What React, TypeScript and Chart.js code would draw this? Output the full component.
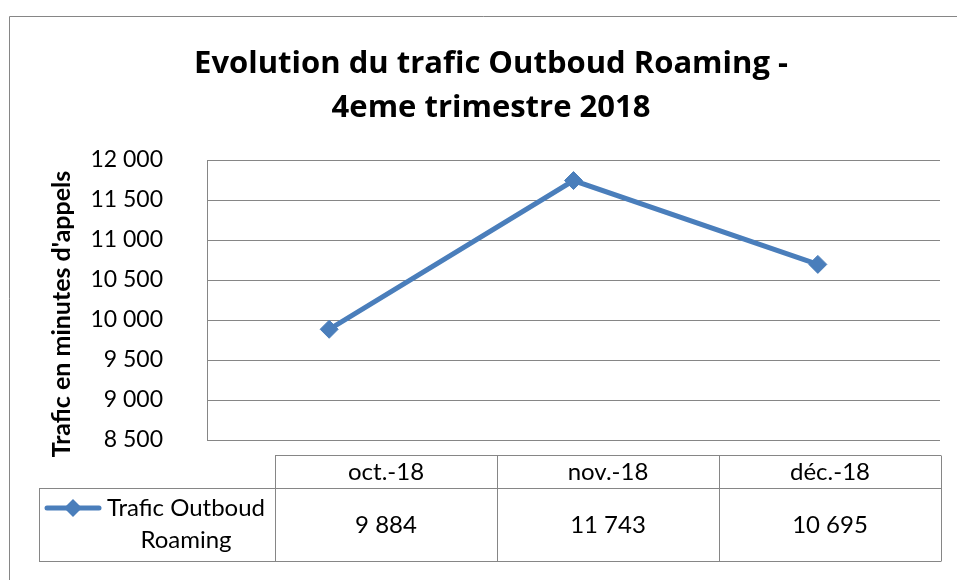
import React, { useEffect, useRef } from "react";
import { Chart, registerables } from "chart.js";

Chart.register(...registerables);

const categories = ["oct.-18", "nov.-18", "déc.-18"];
const seriesName = ["Trafic Outboud", "Roaming"];
const trafficValues = [9884, 11743, 10695];
const titleLines = ["Evolution du trafic Outboud Roaming -", "4eme trimestre 2018"];
const yAxisTitle = "Trafic en minutes d'appels";
const yMin = 8500;
const yMax = 12000;
const yStep = 500;

const FONT = "Lato, 'Open Sans', sans-serif";
const TITLE_FONT = "'Open Sans', Lato, sans-serif";
const BLUE = "#4a7ebb";
const GRID = "#868686";

const fmt = (v: number) => String(v).replace(/\B(?=(\d{3})+(?!\d))/g, " ");

const decorPlugin = {
  id: "decor",
  afterDraw(chart: any) {
    const ctx: CanvasRenderingContext2D = chart.ctx;
    ctx.save();
    // outer chart border
    ctx.strokeStyle = GRID;
    ctx.lineWidth = 1;
    ctx.beginPath();
    ctx.moveTo(9.5, 580);
    ctx.lineTo(9.5, 16.5);
    ctx.lineTo(957, 16.5);
    ctx.stroke();

    // y-axis title
    ctx.fillStyle = "#000";
    ctx.font = `bold 25px ${FONT}`;
    ctx.textAlign = "center";
    ctx.textBaseline = "middle";
    ctx.translate(62, 314);
    ctx.rotate(-Math.PI / 2);
    ctx.fillText(yAxisTitle, 0, 0);
    ctx.restore();

    // data table
    ctx.save();
    const colX = [275, 497, 719, 941];
    const legendLeft = 39;
    const headTop = 455.5;
    const rowTop = 488.5;
    const rowBottom = 561.5;
    ctx.strokeStyle = GRID;
    ctx.lineWidth = 1;
    ctx.beginPath();
    ctx.moveTo(colX[0], headTop);
    ctx.lineTo(colX[3], headTop);
    ctx.moveTo(legendLeft, rowTop);
    ctx.lineTo(colX[3], rowTop);
    ctx.moveTo(legendLeft, rowBottom);
    ctx.lineTo(colX[3], rowBottom);
    ctx.moveTo(legendLeft + 0.5, rowTop);
    ctx.lineTo(legendLeft + 0.5, rowBottom);
    colX.forEach((x) => {
      ctx.moveTo(x + 0.5, headTop);
      ctx.lineTo(x + 0.5, rowBottom);
    });
    ctx.stroke();

    ctx.fillStyle = "#000";
    ctx.font = `24px ${FONT}`;
    ctx.textAlign = "center";
    ctx.textBaseline = "middle";
    const labels = chart.data.labels as string[];
    const vals = chart.data.datasets[0].data as number[];
    for (let i = 0; i < labels.length; i++) {
      const cx = (colX[i] + colX[i + 1]) / 2;
      ctx.fillText(labels[i], cx, 472);
      ctx.fillText(fmt(vals[i]), cx, 525);
    }
    // legend key
    ctx.strokeStyle = BLUE;
    ctx.lineWidth = 5;
    ctx.lineCap = "round";
    ctx.beginPath();
    ctx.moveTo(47, 508);
    ctx.lineTo(99, 508);
    ctx.stroke();
    ctx.fillStyle = BLUE;
    ctx.beginPath();
    ctx.moveTo(73, 499);
    ctx.lineTo(82, 508);
    ctx.lineTo(73, 517);
    ctx.lineTo(64, 508);
    ctx.closePath();
    ctx.fill();
    ctx.fillStyle = "#000";
    ctx.fillText(seriesName[0], 186, 508);
    ctx.fillText(seriesName[1], 186, 540);
    ctx.restore();
  },
};

export default function App() {
  const ref = useRef<HTMLCanvasElement>(null);
  useEffect(() => {
    if (!ref.current) return;
    const chart = new Chart(ref.current, {
      type: "line",
      data: {
        labels: categories,
        datasets: [
          {
            label: seriesName.join(" "),
            data: trafficValues,
            borderColor: BLUE,
            backgroundColor: BLUE,
            borderWidth: 5,
            pointStyle: "rectRot",
            pointRadius: 9,
            pointBorderWidth: 1,
            pointBackgroundColor: BLUE,
            pointBorderColor: BLUE,
            tension: 0,
          },
        ],
      },
      options: {
        responsive: false,
        animation: false,
        layout: { padding: { left: 42, right: 17, top: 0, bottom: 140 } },
        plugins: {
          legend: { display: false },
          tooltip: { enabled: false },
          title: {
            display: true,
            text: titleLines,
            color: "#000",
            font: { family: TITLE_FONT, size: 31, weight: "bold", lineHeight: 44 / 31 },
            padding: { top: 42, bottom: 30 },
          },
        },
        scales: {
          x: {
            type: "category",
            offset: true,
            display: false,
            grid: { display: false },
          },
          y: {
            min: yMin,
            max: yMax,
            ticks: {
              stepSize: yStep,
              color: "#000",
              padding: 44,
              font: { family: FONT, size: 23 },
              callback: (v: any) => fmt(Number(v)),
            },
            grid: { color: GRID, drawTicks: false, lineWidth: 1 },
            border: { display: true, color: GRID, width: 1 },
            afterFit: (scale: any) => {
              scale.width = 165;
            },
          },
        },
      },
      plugins: [decorPlugin],
    });
    return () => chart.destroy();
  }, []);
  return (
    <div style={{ position: "absolute", left: 0, top: 0, width: 957, height: 580, background: "#fff" }}>
      <canvas ref={ref} width={957} height={580} style={{ display: "block" }} />
    </div>
  );
}
